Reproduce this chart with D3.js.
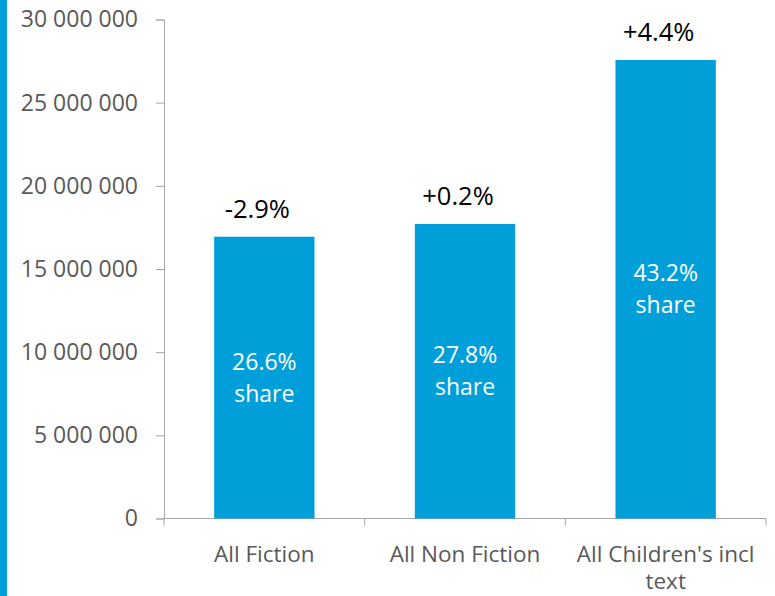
<!DOCTYPE html>
<html>
<head>
<meta charset="utf-8">
<script src="https://cdn.jsdelivr.net/npm/d3@7"></script>
<style>
  body { margin: 0; background: #fff; }
  svg { display: block; font-family: "Open Sans", sans-serif; }
</style>
</head>
<body>
<svg id="chart"></svg>
<script>
const categories = ["All Fiction", "All Non Fiction", "All Children's incl text"];
const values = [16940000, 17710000, 27570000];
const changes = ["-2.9%", "+0.2%", "+4.4%"];
const shares = ["26.6%", "27.8%", "43.2%"];
const yTicks = [0, 5000000, 10000000, 15000000, 20000000, 25000000, 30000000];

const width = 775, height = 596;
const margin = { top: 19.5, right: 9, bottom: 77.5, left: 164 };
const innerWidth = width - margin.left - margin.right;
const innerHeight = height - margin.top - margin.bottom;
const blue = '#009fda';
const font = '"Open Sans", sans-serif';

const svg = d3.select('svg#chart')
  .attr('width', width)
  .attr('height', height);

// blue strip down the left edge
svg.append('rect')
  .attr('x', 0).attr('y', 0)
  .attr('width', 7).attr('height', height)
  .attr('fill', blue);

const g = svg.append('g')
  .attr('transform', `translate(${margin.left}, ${margin.top})`);

const x = d3.scaleBand()
  .domain(categories)
  .range([0, innerWidth])
  .paddingInner(0.5)
  .paddingOuter(0.25);

const y = d3.scaleLinear()
  .domain([0, 30000000])
  .range([innerHeight, 0]);

const yAxis = d3.axisLeft(y)
  .tickValues(yTicks)
  .tickSize(8)
  .tickPadding(18)
  .tickFormat(d => d3.format(',')(d).replace(/,/g, ' '));

const yAxisG = g.append('g').call(yAxis)
  .attr('font-family', font)
  .attr('font-size', null);
yAxisG.select('.domain').attr('stroke', '#a6a6a6');
yAxisG.selectAll('.tick line').attr('stroke', '#a6a6a6');
yAxisG.selectAll('.tick text')
  .attr('fill', '#595959')
  .style('font-size', '23px');

// x axis baseline + boundary ticks
const xAxisG = g.append('g')
  .attr('transform', `translate(0, ${innerHeight})`);
xAxisG.append('line')
  .attr('x1', 0).attr('x2', innerWidth)
  .attr('stroke', '#a6a6a6');
const bounds = d3.range(categories.length + 1).map(i => i * x.step());
xAxisG.selectAll('.bound').data(bounds)
  .enter().append('line')
  .attr('class', 'bound')
  .attr('x1', d => d).attr('x2', d => d)
  .attr('y1', 0).attr('y2', 7)
  .attr('stroke', '#a6a6a6');

// category labels, wrapped to band step
const lineH = 27;
xAxisG.selectAll('.cat').data(categories)
  .enter().append('text')
  .attr('class', 'cat')
  .attr('text-anchor', 'middle')
  .attr('fill', '#595959')
  .style('font-size', '22.5px')
  .attr('transform', d => `translate(${x(d) + x.bandwidth() / 2}, 43)`)
  .each(function(d) {
    const t = d3.select(this);
    const words = d.split(' ');
    let lines = [], cur = [];
    words.forEach(w => {
      const test = cur.concat([w]).join(' ');
      t.text(test);
      if (this.getComputedTextLength() > x.step() - 8 && cur.length) {
        lines.push(cur.join(' '));
        cur = [w];
      } else cur.push(w);
    });
    lines.push(cur.join(' '));
    t.text(null);
    lines.forEach((l, i) => t.append('tspan').attr('x', 0).attr('y', i * lineH).text(l));
  });

// bars
g.selectAll('.bar').data(values)
  .enter().append('rect')
  .attr('class', 'bar')
  .attr('x', (d, i) => x(categories[i]))
  .attr('y', d => y(d))
  .attr('width', x.bandwidth())
  .attr('height', d => innerHeight - y(d))
  .attr('fill', blue);

// change labels above bars
g.selectAll('.chg').data(values)
  .enter().append('text')
  .attr('class', 'chg')
  .attr('text-anchor', 'middle')
  .attr('x', (d, i) => x(categories[i]) + x.bandwidth() / 2 - 7)
  .attr('y', d => y(d) - 19)
  .attr('fill', '#000')
  .style('font-size', '25.5px')
  .text((d, i) => changes[i]);

// share labels inside bars
const shareG = g.selectAll('.share').data(values)
  .enter().append('text')
  .attr('class', 'share')
  .attr('text-anchor', 'middle')
  .attr('fill', '#fff')
  .style('font-size', '23px')
  .attr('transform', (d, i) =>
    `translate(${x(categories[i]) + x.bandwidth() / 2}, ${y(d / 2) - 8})`);
shareG.append('tspan').attr('x', 0).attr('y', 0).text((d, i) => shares[i]);
shareG.append('tspan').attr('x', 0).attr('y', 32).text('share');
</script>
</body>
</html>
